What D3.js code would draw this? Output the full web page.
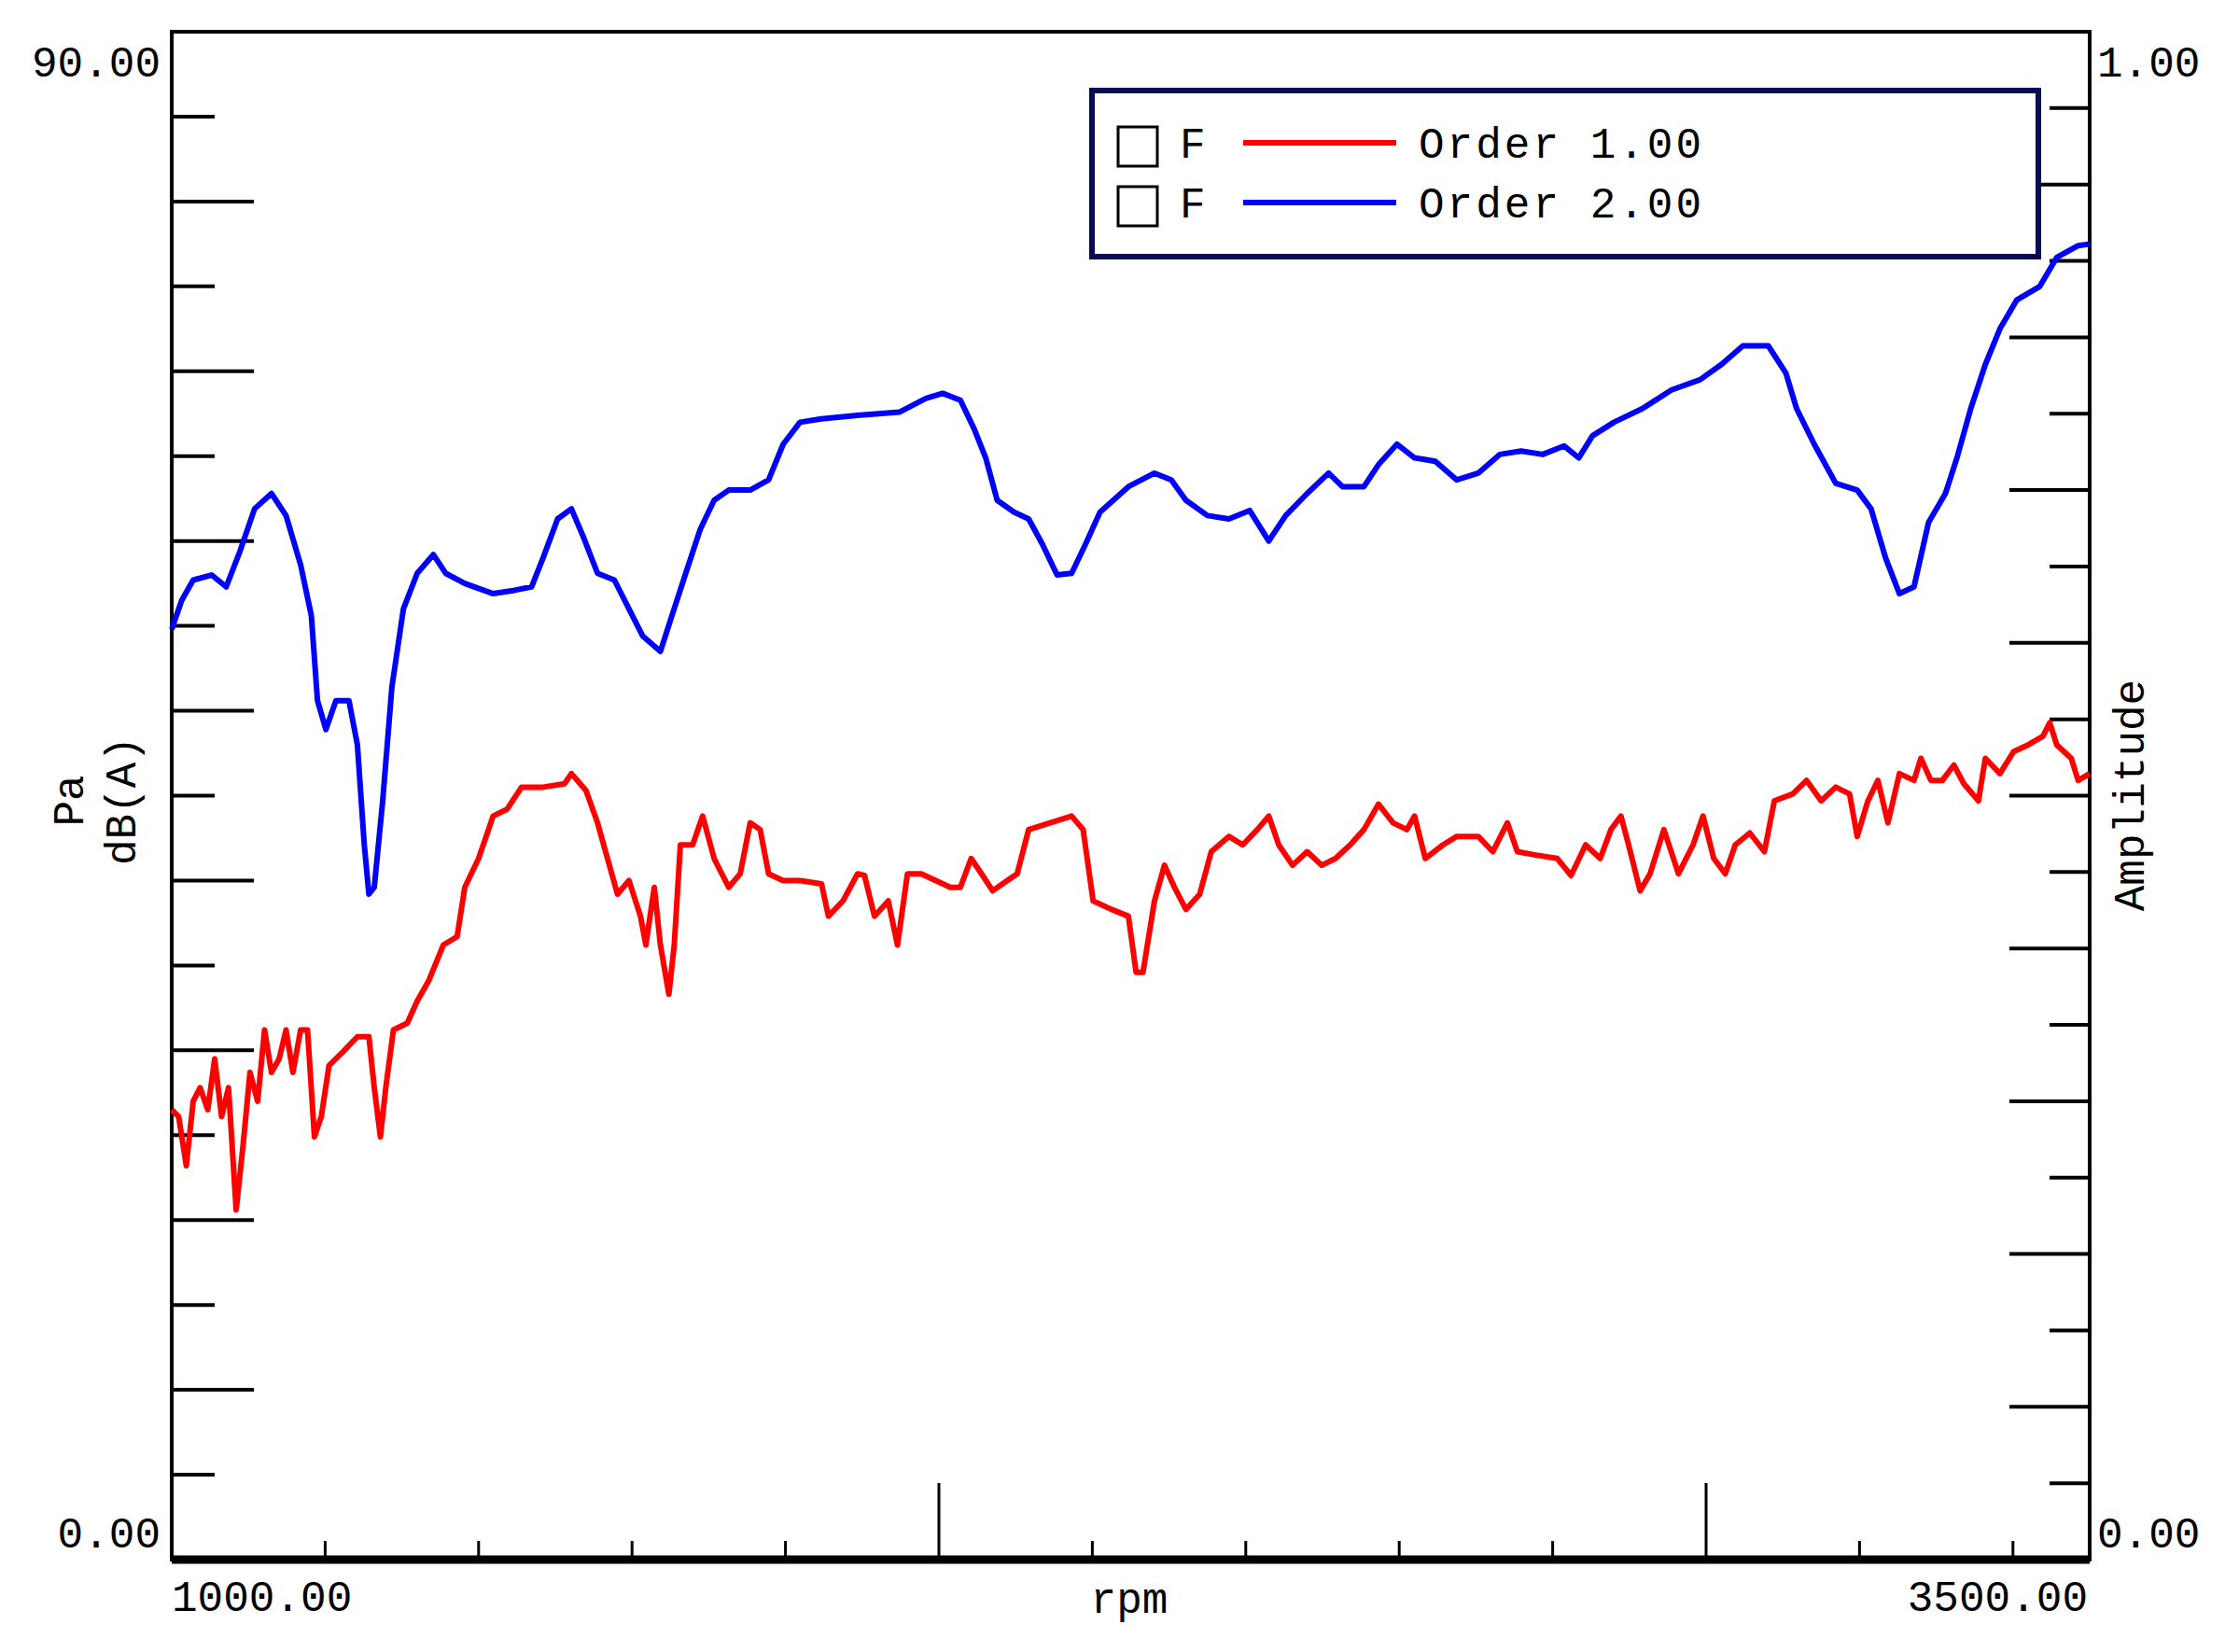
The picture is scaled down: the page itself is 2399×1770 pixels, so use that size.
<!DOCTYPE html>
<html><head><meta charset="utf-8">
<script src="https://cdn.jsdelivr.net/npm/d3@7"></script>
<style>body{margin:0;background:#fff}</style></head>
<body><svg id="c" width="2399" height="1770"></svg>
<script>
const blueRpm=[1000,1013,1028,1052,1071,1089,1108,1130,1149,1168,1182,1190,1201,1214,1231,1242,1251,1257,1264,1275,1287,1302,1320,1341,1357,1382,1419,1447,1469,1484,1503,1521,1536,1555,1577,1596,1614,1637,1652,1670,1689,1707,1726,1754,1778,1797,1819,1847,1894,1949,1983,2005,2028,2046,2061,2076,2098,2117,2135,2154,2173,2191,2210,2247,2281,2303,2322,2350,2378,2405,2430,2452,2480,2508,2526,2554,2573,2597,2620,2647,2675,2703,2731,2759,2787,2815,2834,2852,2880,2917,2955,2992,3020,3048,3081,3104,3118,3141,3169,3197,3215,3234,3252,3271,3290,3312,3327,3345,3364,3383,3405,3435,3457,3485,3500];
const blueDb=[54.8,56.5,57.7,58.0,57.3,59.4,61.9,62.8,61.5,58.6,55.6,50.6,48.9,50.6,50.6,48.0,42.1,39.2,39.6,44.7,51.4,56.0,58.1,59.2,58.1,57.5,56.9,57.1,57.3,59.0,61.3,61.9,60.3,58.1,57.7,56.0,54.4,53.5,55.6,58.1,60.7,62.4,63.0,63.0,63.6,65.7,67.0,67.2,67.4,67.6,68.4,68.7,68.3,66.6,64.9,62.4,61.7,61.3,59.8,58.0,58.1,59.8,61.7,63.2,64.0,63.6,62.4,61.5,61.3,61.8,60.0,61.5,62.8,64.0,63.2,63.2,64.5,65.7,64.9,64.7,63.6,64.0,65.1,65.3,65.1,65.6,64.9,66.2,67.0,67.8,68.9,69.5,70.4,71.5,71.5,69.9,67.8,65.7,63.4,63.0,61.9,59.0,56.9,57.3,61.1,62.8,64.9,67.8,70.4,72.5,74.2,75.0,76.7,77.4,77.5];
const redRpm=[1000,1009,1019,1028,1037,1047,1056,1065,1074,1084,1093,1102,1112,1121,1130,1140,1149,1158,1168,1177,1186,1195,1205,1223,1242,1257,1264,1272,1279,1289,1307,1320,1335,1354,1372,1382,1400,1419,1437,1456,1484,1512,1521,1540,1555,1568,1581,1596,1611,1618,1629,1637,1648,1655,1663,1679,1692,1707,1726,1741,1754,1767,1778,1797,1819,1847,1856,1875,1894,1903,1916,1934,1946,1959,1977,1996,2015,2028,2042,2057,2070,2089,2102,2117,2145,2173,2188,2201,2225,2247,2257,2266,2281,2294,2307,2322,2340,2355,2378,2396,2415,2430,2443,2461,2480,2499,2517,2536,2554,2573,2592,2610,2620,2634,2657,2675,2703,2722,2741,2754,2778,2806,2824,2843,2862,2876,2889,2899,2914,2927,2945,2964,2983,2996,3010,3025,3038,3057,3076,3089,3113,3131,3150,3169,3187,3197,3211,3224,3237,3252,3271,3280,3293,3308,3323,3336,3355,3364,3383,3401,3420,3439,3448,3457,3476,3485,3500];
const redDb=[26.5,26.1,23.2,27.0,27.8,26.5,29.5,26.1,27.8,20.6,24.4,28.7,27.0,31.2,28.7,29.5,31.2,28.7,31.2,31.2,24.9,26.1,29.1,29.9,30.8,30.8,27.8,24.9,27.8,31.2,31.6,32.9,34.1,36.2,36.7,39.6,41.3,43.8,44.2,45.5,45.5,45.7,46.3,45.3,43.4,41.3,39.2,40.0,37.9,36.2,39.6,36.2,33.3,36.2,42.1,42.1,43.8,41.3,39.6,40.4,43.4,43.0,40.4,40.0,40.0,39.8,37.9,38.8,40.4,40.3,37.9,38.8,36.2,40.4,40.4,40.0,39.6,39.6,41.3,40.3,39.4,40.0,40.4,43.0,43.4,43.8,43.0,38.8,38.3,37.9,34.6,34.6,38.8,40.9,39.6,38.3,39.2,41.7,42.6,42.1,43.0,43.8,42.1,40.9,41.7,40.9,41.3,42.1,43.0,44.5,43.4,43.0,43.8,41.3,42.1,42.6,42.6,41.7,43.4,41.7,41.5,41.3,40.3,42.1,41.3,43.0,43.8,42.1,39.4,40.4,43.0,40.4,42.1,43.8,41.3,40.4,42.1,42.8,41.7,44.7,45.1,45.9,44.7,45.5,45.1,42.6,44.7,45.9,43.4,46.3,45.9,47.2,45.9,45.9,46.8,45.7,44.7,47.2,46.3,47.6,48.0,48.5,49.3,48.0,47.2,45.9,46.3];
const leftTicks=d3.range(0,90.01,5);
const rightTicks=d3.range(0,1.001,0.05);
const xTicks=d3.range(1200,3401,200);
const legendLabels=["Order 1.00","Order 2.00"];

const svg=d3.select("#c");
const L=184,R=2239,T=34,B=1671;
const x=d3.scaleLinear().domain([1000,3500]).range([L,R]);
const y=d3.scaleLinear().domain([0,90]).range([B,T]);
const y2=d3.scaleLinear().domain([0,1]).range([B,T]);
const font="'Liberation Mono','DejaVu Sans Mono',monospace";

svg.append("rect").attr("x",L).attr("y",T).attr("width",R-L).attr("height",B-T).attr("fill","none").attr("stroke","#000").attr("stroke-width",4);
svg.append("line").attr("x1",L).attr("x2",R).attr("y1",B).attr("y2",B).attr("stroke","#000").attr("stroke-width",9);

leftTicks.forEach(v=>{ if(v===0||v===90) return;
  const long=Math.round(v)%10===0;
  svg.append("line").attr("x1",L).attr("x2",L+(long?88:46)).attr("y1",y(v)).attr("y2",y(v)).attr("stroke","#000").attr("stroke-width",4);});
rightTicks.forEach((v,i)=>{ if(i===0||i===20) return;
  const long=i%2===0;
  svg.append("line").attr("x1",R).attr("x2",R-(long?86:43)).attr("y1",y2(v)).attr("y2",y2(v)).attr("stroke","#000").attr("stroke-width",4);});
xTicks.forEach(v=>{const long=v===2000||v===3000;
  svg.append("line").attr("x1",x(v)).attr("x2",x(v)).attr("y1",B).attr("y2",B-(long?82:20)).attr("stroke","#000").attr("stroke-width",3);});

const line=d3.line().x(d=>x(d[0])).y(d=>y(d[1]));
svg.append("path").datum(blueRpm.map((r,i)=>[r,blueDb[i]])).attr("d",line).attr("fill","none").attr("stroke","#0000ff").attr("stroke-width",6).attr("stroke-linejoin","round");
svg.append("path").datum(redRpm.map((r,i)=>[r,redDb[i]])).attr("d",line).attr("fill","none").attr("stroke","#ff0000").attr("stroke-width",6).attr("stroke-linejoin","round");

function txt(s,xx,yy,anchor,rot){const t=svg.append("text").text(s).attr("x",xx).attr("y",yy).attr("text-anchor",anchor).attr("dominant-baseline","central").attr("font-family",font).attr("font-size",46).attr("fill","#000");
 if(rot) t.attr("transform",`rotate(-90,${xx},${yy})`); return t;}
txt("90.00",172,70,"end");
txt("0.00",172,1646,"end");
txt("1.00",2247,70,"start");
txt("0.00",2247,1646,"start");
txt("1000.00",184,1714,"start");
txt("3500.00",2237,1714,"end");
txt("rpm",1210,1716,"middle");
txt("Pa",77,858,"middle",true);
txt("dB(A)",133,858,"middle",true);
txt("Amplitude",2285,852,"middle",true);

svg.append("rect").attr("x",1170).attr("y",97).attr("width",1014).attr("height",178).attr("fill","#fff").attr("stroke","#0a0a55").attr("stroke-width",6);
const cols=["#ff0000","#0000ff"];
legendLabels.forEach((s,i)=>{const yy=157+i*64;
  svg.append("rect").attr("x",1198).attr("y",yy-21).attr("width",42).attr("height",42).attr("fill","none").attr("stroke","#000").attr("stroke-width",3);
  txt("F",1264,yy,"start");
  svg.append("line").attr("x1",1332).attr("x2",1496).attr("y1",yy-4).attr("y2",yy-4).attr("stroke",cols[i]).attr("stroke-width",6);
  txt(s,1520,yy,"start").attr("letter-spacing",3);
});
</script></body></html>
